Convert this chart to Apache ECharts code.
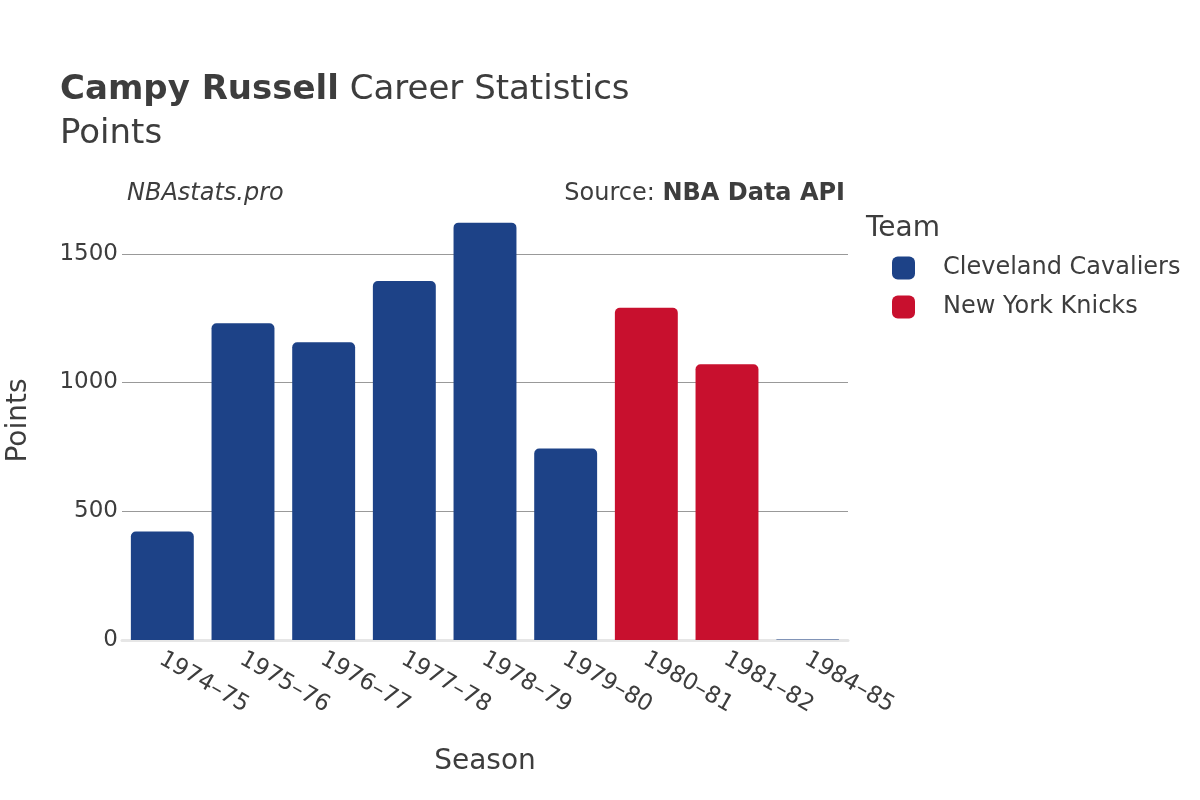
<!DOCTYPE html>
<html>
<head>
<meta charset="utf-8">
<script src="https://cdn.jsdelivr.net/npm/echarts@6/dist/echarts.min.js"></script>
<style>html,body{margin:0;padding:0;background:#fff}#c{width:1200px;height:800px}</style>
</head>
<body>
<div id="c"></div>
<script>
const seasons = ['1974–75','1975–76','1976–77','1977–78','1978–79','1979–80','1980–81','1981–82','1984–85'];
const cavaliers = [421, 1230, 1156, 1394, 1621, 744, null, null, 2];
const knicks = [null, null, null, null, null, null, 1290, 1071, null];
const yTicks = [500, 1000, 1500];
const teamNames = ['Cleveland Cavaliers', 'New York Knicks'];
const teamColors = ['#1d4287', '#c8102e'];

const FONT = 'DejaVu Sans';
const TXT = '#3d3d3d';
const chart = echarts.init(document.getElementById('c'));
chart.setOption({
  animation: false,
  textStyle: { fontFamily: FONT, color: TXT },
  title: [
    { left: 60, top: 73, padding: 0, text: '{b|Campy Russell} {n|Career Statistics}',
      textStyle: { fontFamily: FONT, fontSize: 34, fontWeight: 'normal', color: TXT,
                   rich: { b: { fontFamily: FONT, fontSize: 34, fontWeight: 'bold', color: TXT },
                           n: { fontFamily: FONT, fontSize: 34, fontWeight: 'normal', color: TXT } } } },
    { left: 60, top: 117, padding: 0, text: 'Points', textStyle: { fontFamily: FONT, fontSize: 34, fontWeight: 'normal', color: TXT } },
    { left: 127, top: 182, padding: 0, text: 'NBAstats.pro', textStyle: { fontFamily: FONT, fontSize: 24, fontStyle: 'italic', fontWeight: 'normal', color: TXT } },
    { right: 355, top: 182, padding: 0, text: 'Source: {s|NBA Data API}',
      textStyle: { fontFamily: FONT, fontSize: 24, fontWeight: 'normal', color: TXT,
                   rich: { s: { fontFamily: FONT, fontSize: 24, fontWeight: 'bold', color: TXT } } } },
    { left: 866, top: 215, padding: 0, text: 'Team', textStyle: { fontFamily: FONT, fontSize: 28, fontWeight: 'normal', color: TXT } }
  ],
  legend: {
    orient: 'vertical', left: 887, top: 251, itemWidth: 23, itemHeight: 23, itemGap: 15,
    icon: 'roundRect', data: teamNames,
    textStyle: { fontFamily: FONT, fontSize: 24, color: TXT, padding: [0, 0, 0, 23] }
  },
  grid: { left: 122, right: 352, top: 201, bottom: 160, containLabel: false, outerBoundsMode: 'none' },
  xAxis: {
    type: 'category', data: seasons,
    name: 'Season', nameLocation: 'middle', nameGap: 108,
    nameTextStyle: { fontFamily: FONT, fontSize: 28, color: TXT },
    axisLine: { show: true, lineStyle: { color: '#e6e6e6', width: 3 } },
    axisTick: { show: false },
    axisLabel: { rotate: -30, fontFamily: FONT, fontSize: 23, color: TXT, margin: 5, verticalAlign: 'top',
                 padding: [0, 0, 0, 5] }
  },
  yAxis: {
    type: 'value', min: 0, max: 1705, interval: 500,
    name: 'Points', nameLocation: 'middle', nameGap: 89,
    nameTextStyle: { fontFamily: FONT, fontSize: 28, color: TXT },
    splitLine: { show: false },
    axisLine: { show: false }, axisTick: { show: false },
    axisLabel: { fontFamily: FONT, fontSize: 23, color: TXT, margin: 4, showMaxLabel: false,
                 formatter: v => String(v) }
  },
  series: [
    { name: teamNames[0], type: 'bar', stack: 'all', data: cavaliers, barCategoryGap: '22%',
      itemStyle: { color: teamColors[0], borderRadius: [5, 5, 0, 0] }, z: 3,
      markLine: { silent: true, symbol: 'none', z: 1, label: { show: false },
        lineStyle: { color: '#999', width: 1, type: 'solid' },
        data: yTicks.map(v => ({ yAxis: v })) } },
    { name: teamNames[1], type: 'bar', stack: 'all', data: knicks,
      itemStyle: { color: teamColors[1], borderRadius: [5, 5, 0, 0] }, z: 3 }
  ]
});
</script>
</body>
</html>
